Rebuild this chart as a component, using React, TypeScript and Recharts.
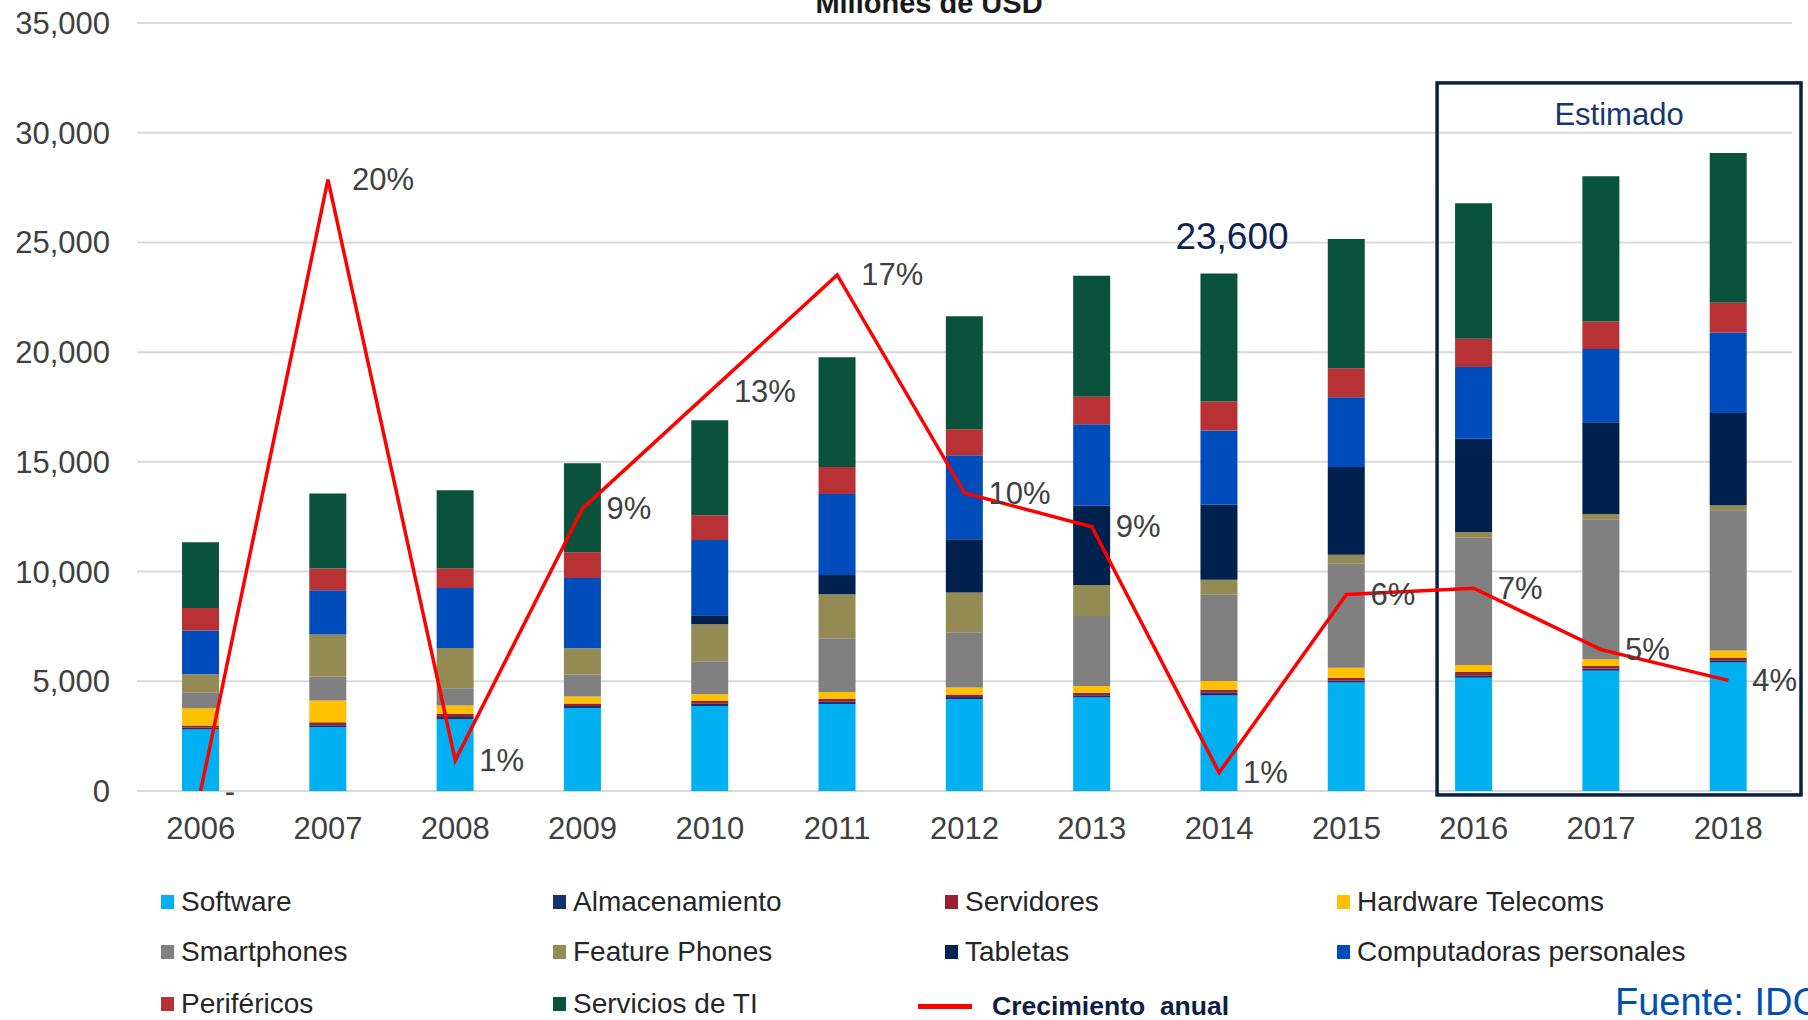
import React from 'react';
import {
    ComposedChart,
    Bar,
    Line,
    XAxis,
    YAxis,
    CartesianGrid,
    LabelList,
    ReferenceArea,
} from 'recharts';

// valores en millones de USD
const years = ['2006', '2007', '2008', '2009', '2010', '2011', '2012', '2013', '2014', '2015', '2016', '2017', '2018'];

const software = [2800, 2920, 3280, 3780, 3870, 3970, 4190, 4260, 4350, 4950, 5160, 5480, 5860];
const almacenamiento = [90, 80, 90, 90, 110, 100, 90, 100, 130, 90, 120, 100, 100];
const servidores = [100, 130, 150, 120, 120, 120, 120, 120, 130, 120, 140, 120, 120];
const hardwareTelecoms = [780, 1000, 380, 320, 310, 320, 320, 310, 400, 460, 320, 300, 320];
const smartphones = [730, 1090, 780, 1000, 1500, 2450, 2510, 3190, 3930, 4740, 5800, 6380, 6400];
const featurePhones = [820, 1910, 1840, 1190, 1690, 2010, 1820, 1410, 690, 410, 260, 240, 220];
const tabletas = [0, 0, 0, 0, 410, 870, 2420, 3610, 3420, 3990, 4250, 4190, 4210];
const computadoras = [2000, 2020, 2730, 3210, 3430, 3690, 3830, 3710, 3380, 3190, 3270, 3330, 3670];
const perifericos = [1020, 990, 900, 1170, 1130, 1230, 1190, 1260, 1320, 1320, 1290, 1260, 1350];
const serviciosTI = [3000, 3420, 3560, 4060, 4330, 5010, 5150, 5510, 5830, 5890, 6180, 6620, 6820];

// crecimiento anual (eje secundario)
const crecimiento = [0, 0.199, 0.01, 0.092, 0.13, 0.168, 0.097, 0.086, 0.006, 0.064, 0.066, 0.046, 0.036];

const yTicks = [0, 5000, 10000, 15000, 20000, 25000, 30000, 35000];
const highlightYear = '2014';
const estimadoYears = ['2016', '2018'];

const series = [
    { key: 'software', name: 'Software', color: '#00B0F0', values: software },
    { key: 'almacenamiento', name: 'Almacenamiento', color: '#17336E', values: almacenamiento },
    { key: 'servidores', name: 'Servidores', color: '#9A2230', values: servidores },
    { key: 'hardware', name: 'Hardware Telecoms', color: '#FFC000', values: hardwareTelecoms },
    { key: 'smartphones', name: 'Smartphones', color: '#808080', values: smartphones },
    { key: 'feature', name: 'Feature Phones', color: '#948A54', values: featurePhones },
    { key: 'tabletas', name: 'Tabletas', color: '#00204E', values: tabletas },
    { key: 'pcs', name: 'Computadoras personales', color: '#004CBB', values: computadoras },
    { key: 'perifericos', name: 'Periféricos', color: '#B83235', values: perifericos },
    { key: 'servicios', name: 'Servicios de TI', color: '#0B523D', values: serviciosTI },
];

const data = years.map((year, i) => {
    const row: Record<string, any> = { year, crecimiento: crecimiento[i] };
    let total = 0;
    series.forEach((s) => {
        row[s.key] = s.values[i];
        total += s.values[i];
    });
    row.destacado = year === highlightYear ? (Math.round(total / 100) * 100).toLocaleString('en-US') : undefined;
    return row;
});

const GrowthLabel = (props: any) => {
    const { x, y, value } = props;
    const text = value === 0 ? '-' : `${Math.round(value * 100)}%`;
    return (
        <text x={x + 24} y={y} dominantBaseline="central" fontSize={31} fill="#404040">
            {text}
        </text>
    );
};

const TotalLabel = (props: any) => {
    const { x, y, width, value } = props;
    if (!value) return null;
    return (
        <text x={x + width / 2 + 13} y={y - 37} textAnchor="middle" dominantBaseline="central" fontSize={37} fill="#0C2352">
            {value}
        </text>
    );
};

const EstimadoBox = (props: any) => {
    const { x, y, width, height } = props;
    const left = x + 27;
    const right = x + width + 9;
    return (
        <g>
            <rect x={left} y={y} width={right - left} height={height} fill="none" stroke="#0B1F45" strokeWidth={3.5} />
            <text x={(left + right) / 2} y={y + 32} textAnchor="middle" dominantBaseline="central" fontSize={31} fill="#17366F">
                Estimado
            </text>
        </g>
    );
};

const legendCols = [161, 553, 945, 1337];
const legendRows = [902, 952, 1004];

export default function App() {
    return (
        <div
            style={{
                position: 'absolute',
                left: 0,
                top: 0,
                width: 1808,
                height: 1020,
                background: '#fff',
                overflow: 'hidden',
                fontFamily: '"Liberation Sans", Arial, sans-serif',
            }}
        >
            <div
                style={{
                    position: 'absolute',
                    left: 0,
                    width: 1858,
                    top: -17,
                    textAlign: 'center',
                    fontSize: 29,
                    fontWeight: 'bold',
                    color: '#1a1a1a',
                    lineHeight: '40px',
                }}
            >
                Millones de USD
            </div>
            <ComposedChart width={1808} height={860} data={data} margin={{ top: 23, right: 16, left: 0, bottom: 0 }}>
                <CartesianGrid vertical={false} stroke="#D9D9D9" strokeWidth={2} />
                <XAxis
                    dataKey="year"
                    height={69}
                    interval={0}
                    tickLine={false}
                    axisLine={false}
                    tickMargin={20}
                    tick={{ fontSize: 31, fill: '#404040' }}
                />
                <YAxis
                    width={137}
                    domain={[0, 35000]}
                    ticks={yTicks}
                    tickLine={false}
                    axisLine={false}
                    tickMargin={21}
                    tickFormatter={(v: number) => v.toLocaleString('en-US')}
                    tick={{ fontSize: 31, fill: '#404040' }}
                />
                <YAxis yAxisId="pct" orientation="right" hide domain={[0, 0.25]} />
                {series.map((s, i) => (
                    <Bar key={s.key} dataKey={s.key} name={s.name} stackId="a" fill={s.color} barSize={37} isAnimationActive={false}>
                        {i === series.length - 1 && <LabelList dataKey="destacado" content={TotalLabel} />}
                    </Bar>
                ))}
                <ReferenceArea
                    x1={estimadoYears[0]}
                    x2={estimadoYears[1]}
                    y1={-180}
                    y2={32270}
                    ifOverflow="visible"
                    shape={EstimadoBox}
                />
                <Line
                    yAxisId="pct"
                    dataKey="crecimiento"
                    name="Crecimiento anual"
                    type="linear"
                    stroke="#FF0000"
                    strokeWidth={3.5}
                    dot={false}
                    activeDot={false}
                    isAnimationActive={false}
                >
                    <LabelList dataKey="crecimiento" content={GrowthLabel} />
                </Line>
            </ComposedChart>
            {series.map((s, i) => (
                <div
                    key={s.key}
                    style={{
                        position: 'absolute',
                        left: legendCols[i % 4],
                        top: legendRows[Math.floor(i / 4)] - 18,
                        height: 36,
                        display: 'flex',
                        alignItems: 'center',
                        fontSize: 28,
                        color: '#262626',
                        whiteSpace: 'nowrap',
                    }}
                >
                    <span style={{ display: 'inline-block', width: 13, height: 14, background: s.color, marginRight: 7 }} />
                    {s.name}
                </div>
            ))}
            <div
                style={{
                    position: 'absolute',
                    left: 918,
                    top: legendRows[2] - 16,
                    height: 36,
                    display: 'flex',
                    alignItems: 'center',
                    fontSize: 26.5,
                    fontWeight: 'bold',
                    color: '#0C1E45',
                    whiteSpace: 'pre',
                }}
            >
                <span style={{ display: 'inline-block', width: 54, height: 5, background: '#FF0000', marginRight: 20 }} />
                {'Crecimiento  anual'}
            </div>
            <div
                style={{
                    position: 'absolute',
                    left: 1615,
                    top: legendRows[2] - 24,
                    fontSize: 38,
                    lineHeight: '44px',
                    color: '#0050B4',
                    whiteSpace: 'nowrap',
                }}
            >
                Fuente: IDC
            </div>
        </div>
    );
}
